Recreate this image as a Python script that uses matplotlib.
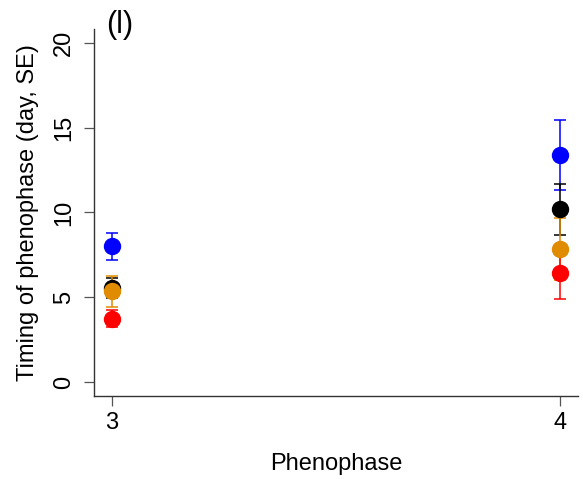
import matplotlib
matplotlib.use("Agg")
import matplotlib.pyplot as plt

plt.rcParams["font.family"] = ["Liberation Sans", "DejaVu Sans"]

# Phenophase stages and mean timing (days) with standard errors per group
phases = [3, 4]
blue_mean = [8.0, 13.4]
blue_se = [0.8, 2.05]
black_mean = [5.55, 10.2]
black_se = [0.6, 1.5]
orange_mean = [5.35, 7.85]
orange_se = [0.9, 1.85]
red_mean = [3.75, 6.43]
red_se = [0.5, 1.5]

y_ticks = [0, 5, 10, 15, 20]

fig = plt.figure(figsize=(5.83, 4.79), dpi=100)
ax = fig.add_axes([0.1612, 0.1733, 0.8302, 0.7662])

series = [
    (blue_mean, blue_se, "#0000FF"),
    (black_mean, black_se, "#000000"),
    (orange_mean, orange_se, "#E08C00"),
    (red_mean, red_se, "#FF0000"),
]
for mean, se, color in series:
    ax.errorbar(phases, mean, yerr=se, fmt="o", color=color, ecolor=color,
                markersize=11.5, elinewidth=1.1, capsize=4.5, capthick=1.1)

ax.set_xlim(2.96, 4.04)
ax.set_ylim(-0.8, 20.8)
ax.set_xticks(phases)
ax.set_yticks(y_ticks)
ax.set_xticklabels([str(p) for p in phases])
ax.set_yticklabels([str(t) for t in y_ticks], rotation=90, va="center")

for side in ["top", "right"]:
    ax.spines[side].set_visible(False)
for side in ["left", "bottom"]:
    ax.spines[side].set_color("#333333")
    ax.spines[side].set_linewidth(1.0)

ax.tick_params(axis="both", length=7.5, width=0.9, color="#555555",
               labelsize=17, pad=4)
ax.tick_params(axis="y", pad=6)

ax.set_xlabel("Phenophase", fontsize=17, labelpad=14)
ax.set_ylabel("Timing of phenophase (day, SE)", fontsize=17, labelpad=10)

fig.text(0.182, 0.947, "(l)", fontsize=22, va="center", ha="left")

fig.savefig("out.png", dpi=100)
